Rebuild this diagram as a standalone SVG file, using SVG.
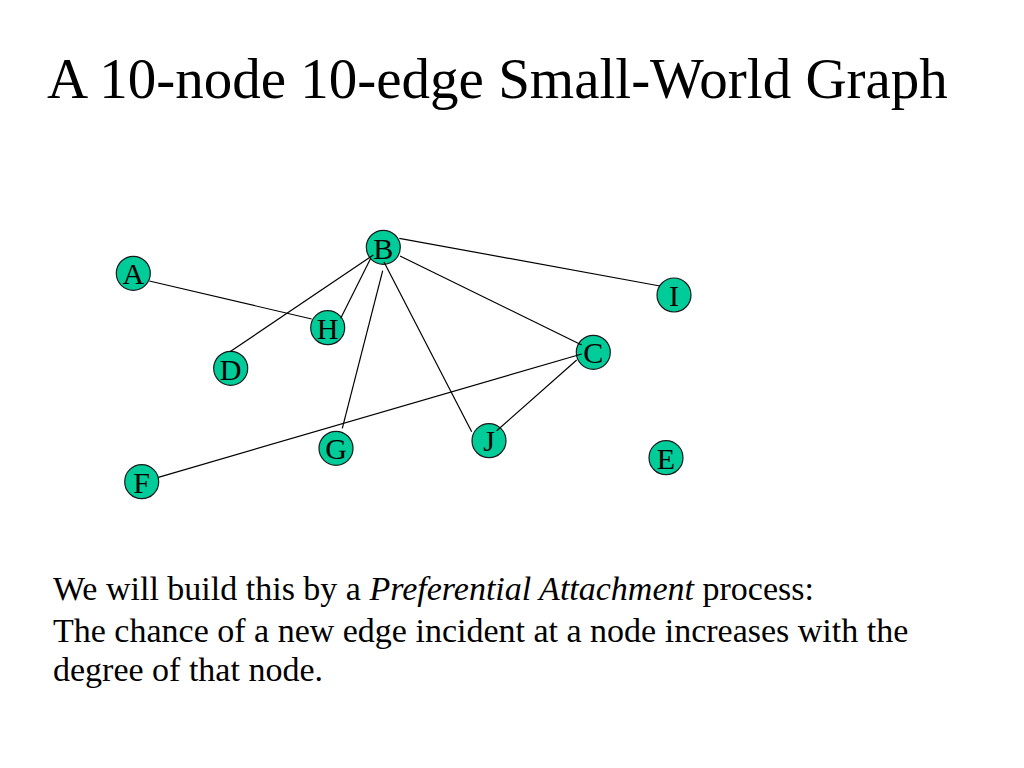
<svg xmlns="http://www.w3.org/2000/svg" width="1024" height="768" viewBox="0 0 1024 768">
<style>
.title{font-family:"Liberation Serif","Times New Roman",serif;font-size:57px;fill:#000}
.body{font-family:"Liberation Serif","Times New Roman",serif;font-size:34px;fill:#000}
.node circle{fill:#00CC99;stroke:#1a1a1a;stroke-width:1.2}
.node text{font-family:"Liberation Serif","Times New Roman",serif;font-size:30px;fill:#000;text-anchor:middle}
.edges line{stroke:#000;stroke-width:1.2}
</style>
<rect width="1024" height="768" fill="#fff"/>
<text class="title" x="47" y="98">A 10-node 10-edge Small-World Graph</text>
<g id="nodes">
<g class="node" id="node-A"><circle cx="133.3" cy="273.3" r="17"/><text x="133.3" y="283.5">A</text></g>
<g class="node" id="node-B"><circle cx="383.3" cy="247.3" r="17"/><text x="383.3" y="259">B</text></g>
<g class="node" id="node-H"><circle cx="327.7" cy="327.7" r="17"/><text x="327.7" y="338.5">H</text></g>
<g class="node" id="node-D"><circle cx="230.7" cy="368.3" r="17"/><text x="230.7" y="379.5">D</text></g>
<g class="node" id="node-I"><circle cx="674" cy="295" r="17"/><text x="674" y="306">I</text></g>
<g class="node" id="node-C"><circle cx="593.3" cy="352.3" r="17"/><text x="593.3" y="363">C</text></g>
<g class="node" id="node-J"><circle cx="489" cy="440.7" r="17"/><text x="489" y="451">J</text></g>
<g class="node" id="node-E"><circle cx="666" cy="457.7" r="17"/><text x="666" y="468.5">E</text></g>
<g class="node" id="node-F"><circle cx="141.7" cy="481.7" r="17"/><text x="141.7" y="492.5">F</text></g>
<g class="node" id="node-G"><circle cx="336" cy="448.3" r="17"/><text x="336" y="459">G</text></g>
</g>
<g class="edges" id="edges">
<line x1="149.3" y1="281" x2="311.7" y2="319"/>
<line x1="373.3" y1="255" x2="230" y2="351.7"/>
<line x1="370.7" y1="258.3" x2="340.7" y2="318.3"/>
<line x1="382.7" y1="270.7" x2="342.3" y2="428.3"/>
<line x1="384" y1="262" x2="471.7" y2="431.7"/>
<line x1="400" y1="256" x2="581.7" y2="345"/>
<line x1="399.3" y1="238.3" x2="660" y2="286"/>
<line x1="581.7" y1="354" x2="158.3" y2="477.3"/>
<line x1="576.7" y1="360" x2="496.7" y2="430.7"/>
</g>
<text class="body" x="53" y="600">We will build this by a <tspan font-style="italic">Preferential Attachment</tspan> process:</text>
<text class="body" x="53" y="642">The chance of a new edge incident at a node increases with the</text>
<text class="body" x="53" y="681">degree of that node.</text>
</svg>
